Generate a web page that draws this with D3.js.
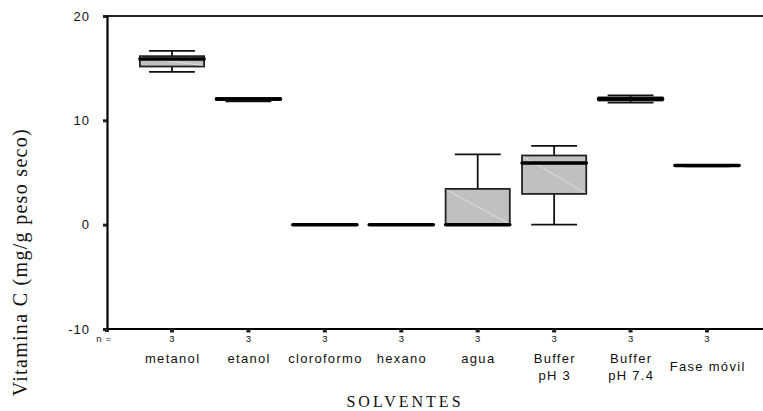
<!DOCTYPE html>
<html>
<head>
<meta charset="utf-8">
<script src="https://cdn.jsdelivr.net/npm/d3@7"></script>
<style>
  html, body { margin: 0; padding: 0; background: #fff; }
  svg { display: block; }
</style>
</head>
<body>
<svg id="chart" width="763" height="411"></svg>
<script>
// Vitamin C extracted per solvent: five-number summaries (mg/g dry weight)
const categories = ["metanol", "etanol", "cloroformo", "hexano", "agua", "Buffer pH 3", "Buffer pH 7.4", "Fase móvil"];
const labelLines = [["metanol"], ["etanol"], ["cloroformo"], ["hexano"], ["agua"], ["Buffer", "pH 3"], ["Buffer", "pH 7.4"], ["Fase móvil"]];
const minVals    = [14.64, 11.83, 0, 0, 0,    0,    11.70, 5.60];
const q1Vals     = [15.16, 11.95, 0, 0, 0,    2.95, 11.90, 5.62];
const medianVals = [15.87, 12.05, 0, 0, 0,    5.90, 12.05, 5.66];
const q3Vals     = [16.15, 12.15, 0, 0, 3.43, 6.63, 12.20, 5.70];
const maxVals    = [16.66, 12.15, 0, 0, 6.73, 7.56, 12.40, 5.70];
const nCounts    = [3, 3, 3, 3, 3, 3, 3, 3];
const yTicks     = [-10, 0, 10, 20];

const svg = d3.select("#chart");
const W = 763;
const plotLeft = 107, plotTop = 16, plotBottom = 329;
const firstCat = 172, lastCat = 707;

const y = d3.scaleLinear().domain([-10, 20]).range([plotBottom, plotTop]);
const x = d3.scalePoint().domain(categories).range([firstCat, lastCat]);
const step = x.step();
const boxW = step * 0.84;
const capW = step * 0.6;

const stats = categories.map((c, i) => ({
  cat: c, min: minVals[i], q1: q1Vals[i], med: medianVals[i], q3: q3Vals[i], max: maxVals[i], n: nCounts[i], lines: labelLines[i]
}));

const sans = "'Liberation Sans', Arial, sans-serif";
const serif = "'Liberation Serif', 'Times New Roman', serif";

// frame: top rule
svg.append("line")
  .attr("x1", plotLeft).attr("x2", W)
  .attr("y1", plotTop).attr("y2", plotTop)
  .attr("stroke", "#222").attr("stroke-width", 2);

// y axis
const yAxis = svg.append("g")
  .attr("transform", `translate(${plotLeft},0)`)
  .call(d3.axisLeft(y).tickValues(yTicks).tickSize(4).tickPadding(13).tickFormat(d => String(d)));
yAxis.select(".domain").attr("stroke", "#000").attr("stroke-width", 2.2);
yAxis.selectAll(".tick line").attr("stroke", "#222").attr("stroke-width", 3);
yAxis.selectAll(".tick text")
  .attr("font-family", sans)
  .attr("font-size", 13).attr("letter-spacing", 1).attr("fill", "#111");

// x axis line with tick marks
svg.append("line")
  .attr("x1", plotLeft).attr("x2", W)
  .attr("y1", plotBottom).attr("y2", plotBottom)
  .attr("stroke", "#000").attr("stroke-width", 2.2);
svg.append("line")
  .attr("x1", plotLeft).attr("x2", plotLeft)
  .attr("y1", plotBottom).attr("y2", plotBottom + 3)
  .attr("stroke", "#222").attr("stroke-width", 4);
svg.selectAll(".xtick").data(stats).enter().append("line")
  .attr("class", "xtick")
  .attr("x1", d => x(d.cat)).attr("x2", d => x(d.cat))
  .attr("y1", plotBottom).attr("y2", plotBottom + 3.5)
  .attr("stroke", "#222").attr("stroke-width", 4);

// n counts
svg.append("text")
  .attr("x", plotLeft - 3).attr("y", 342)
  .attr("text-anchor", "middle")
  .attr("font-family", sans).attr("font-size", 9.5).attr("letter-spacing", 0.7)
  .attr("fill", "#111").text("n =");
svg.selectAll(".ncount").data(stats).enter().append("text")
  .attr("class", "ncount")
  .attr("x", d => x(d.cat)).attr("y", 342)
  .attr("text-anchor", "middle")
  .attr("font-family", sans).attr("font-size", 9.5)
  .attr("fill", "#111").text(d => d.n);

// category labels
const catLabels = svg.selectAll(".catlabel").data(stats).enter().append("text")
  .attr("class", "catlabel")
  .attr("text-anchor", "middle")
  .attr("font-family", sans).attr("font-size", 13).attr("letter-spacing", 1.3)
  .attr("fill", "#111");
catLabels.each(function(d, i) {
  const t = d3.select(this);
  const lineH = 16.5;
  // a lone label next to two-line labels is centred on the pair
  const offset = (d.lines.length === 1 && i > 0 && stats[i - 1].lines.length === 2) ? lineH / 2 : 0;
  d.lines.forEach((ln, k) => {
    t.append("tspan")
      .attr("x", x(d.cat) + 0.65)
      .attr("y", 363 + offset + k * lineH)
      .text(ln);
  });
});

// axis titles
svg.append("text")
  .attr("x", 405).attr("y", 407)
  .attr("text-anchor", "middle")
  .attr("font-family", serif)
  .attr("font-size", 16).attr("letter-spacing", 3)
  .attr("fill", "#111").text("SOLVENTES");

svg.append("text")
  .attr("transform", "translate(27,128) rotate(-90)")
  .attr("text-anchor", "end")
  .attr("font-family", serif)
  .attr("font-size", 20).attr("letter-spacing", 1.3)
  .attr("fill", "#111").text("Vitamina C (mg/g peso seco)");

// box plots
const g = svg.append("g");
const box = g.selectAll(".box").data(stats).enter().append("g").attr("class", "box");

// whiskers
box.append("line")
  .attr("x1", d => x(d.cat)).attr("x2", d => x(d.cat))
  .attr("y1", d => y(d.q3)).attr("y2", d => y(d.max))
  .attr("stroke", "#111").attr("stroke-width", 1.8);
box.append("line")
  .attr("x1", d => x(d.cat)).attr("x2", d => x(d.cat))
  .attr("y1", d => y(d.q1)).attr("y2", d => y(d.min))
  .attr("stroke", "#111").attr("stroke-width", 1.8);
// caps
box.append("line")
  .attr("x1", d => x(d.cat) - capW / 2).attr("x2", d => x(d.cat) + capW / 2)
  .attr("y1", d => y(d.max)).attr("y2", d => y(d.max))
  .attr("stroke", "#111").attr("stroke-width", 1.8);
box.append("line")
  .attr("x1", d => x(d.cat) - capW / 2).attr("x2", d => x(d.cat) + capW / 2)
  .attr("y1", d => y(d.min)).attr("y2", d => y(d.min))
  .attr("stroke", "#111").attr("stroke-width", 1.8);

// boxes
box.append("rect")
  .attr("x", d => x(d.cat) - boxW / 2)
  .attr("width", boxW)
  .attr("y", d => y(d.q3))
  .attr("height", d => Math.max(0, y(d.q1) - y(d.q3)))
  .attr("fill", "#c0c0c0")
  .attr("stroke", "#222").attr("stroke-width", 1.8);

// faint sheen across taller boxes
box.filter(d => y(d.q1) - y(d.q3) > 6).append("line")
  .attr("x1", d => x(d.cat) - boxW / 2 + 1).attr("y1", d => y(d.q3) + 1)
  .attr("x2", d => x(d.cat) + boxW / 2 - 1).attr("y2", d => y(d.q1) - 1)
  .attr("stroke", "#e4e4e4").attr("stroke-width", 0.8);

// medians
box.append("line")
  .attr("x1", d => x(d.cat) - boxW / 2).attr("x2", d => x(d.cat) + boxW / 2)
  .attr("y1", d => y(d.med)).attr("y2", d => y(d.med))
  .attr("stroke", "#000").attr("stroke-width", 3.5)
  .attr("stroke-linecap", "round");
</script>
</body>
</html>
